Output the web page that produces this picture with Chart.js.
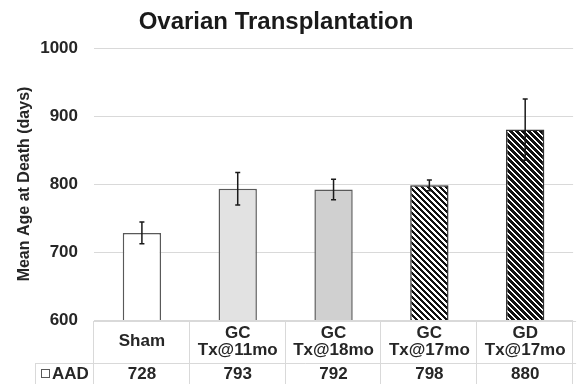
<!DOCTYPE html>
<html>
<head>
<meta charset="utf-8">
<script src="https://cdn.jsdelivr.net/npm/chart.js@4/dist/chart.umd.min.js"></script>
<style>
  html, body { margin: 0; padding: 0; background: #ffffff; }
  #wrap { width: 579px; height: 384px; }
</style>
</head>
<body>
<div id="wrap"><canvas id="c" width="579" height="384"></canvas></div>
<script>
// ---- data ----
const chartTitle = 'Ovarian Transplantation';
const yAxisTitle = 'Mean Age at Death (days)';
const seriesName = 'AAD';
const groups = [['Sham'], ['GC', 'Tx@11mo'], ['GC', 'Tx@18mo'], ['GC', 'Tx@17mo'], ['GD', 'Tx@17mo']];
const aad = [728, 793, 792, 798, 880];
const aadErr = [16, 24, 15, 8, 45];
const yMin = 600;
const yMax = 1000;
const yStep = 100;

const FONT = '"Liberation Sans", Arial, Helvetica, sans-serif';
const TEXT = '#262626';
const LINE = '#d9d9d9';

// diagonal hatch tiles ("\" direction)
function hatch(period, dark, bg, fg) {
  const t = document.createElement('canvas');
  t.width = period; t.height = period;
  const g = t.getContext('2d');
  g.fillStyle = bg; g.fillRect(0, 0, period, period);
  g.fillStyle = fg;
  for (let y = 0; y < period; y++) {
    for (let x = 0; x < period; x++) {
      if ((((x - y) % period) + period) % period < dark) g.fillRect(x, y, 1, 1);
    }
  }
  return g.createPattern(t, 'repeat');
}
const ctx0 = document.getElementById('c').getContext('2d');
const fills = ['#ffffff', '#e2e2e2', '#d0d0d0', hatch(6, 3, '#ffffff', '#111111'), hatch(6, 4, '#ffffff', '#111111')];
const borders = ['#595959', '#595959', '#595959', '#333333', '#333333'];

// error bars drawn on top of the bars
const errorBars = {
  id: 'errorBars',
  afterDatasetsDraw(chart) {
    const { ctx } = chart;
    const y = chart.scales.y;
    const meta = chart.getDatasetMeta(0);
    ctx.save();
    ctx.strokeStyle = '#1a1a1a';
    ctx.lineWidth = 1.5;
    meta.data.forEach((bar, i) => {
      const x = bar.x;
      const top = y.getPixelForValue(aad[i] + aadErr[i]);
      const bot = y.getPixelForValue(aad[i] - aadErr[i]);
      ctx.beginPath();
      ctx.moveTo(x, top); ctx.lineTo(x, bot);
      ctx.moveTo(x - 2.5, top); ctx.lineTo(x + 2.5, top);
      ctx.moveTo(x - 2.5, bot); ctx.lineTo(x + 2.5, bot);
      ctx.stroke();
    });
    ctx.restore();
  }
};

// data table under the plot: grid lines, legend key and the value row
const dataTable = {
  id: 'dataTable',
  afterDraw(chart) {
    const { ctx, chartArea } = chart;
    const x = chart.scales.x;
    const n = groups.length;
    const colW = (chartArea.right - chartArea.left) / n;
    const top = chartArea.bottom + 1;
    const mid = top + 42;
    const bottom = chart.height;
    const keyLeft = 35.5;
    const right = chartArea.right + 3;
    ctx.save();
    ctx.strokeStyle = LINE;
    ctx.lineWidth = 1;
    ctx.beginPath();
    ctx.moveTo(chartArea.left, top + 0.5); ctx.lineTo(right, top + 0.5);
    ctx.moveTo(keyLeft, mid + 0.5); ctx.lineTo(right, mid + 0.5);
    ctx.moveTo(keyLeft, mid); ctx.lineTo(keyLeft, bottom);
    for (let i = 0; i <= n; i++) {
      const px = Math.round(chartArea.left + i * colW) - 0.5;
      ctx.moveTo(px, top); ctx.lineTo(px, bottom);
    }
    ctx.stroke();

    // legend key
    ctx.strokeStyle = '#595959';
    ctx.fillStyle = '#ffffff';
    ctx.fillRect(41.5, 369.5, 8, 8);
    ctx.strokeRect(41.5, 369.5, 8, 8);
    ctx.fillStyle = TEXT;
    ctx.font = 'bold 17px ' + FONT;
    ctx.textBaseline = 'middle';
    ctx.textAlign = 'left';
    ctx.fillText(seriesName, 52, 374);

    // values
    ctx.textAlign = 'center';
    aad.forEach((v, i) => ctx.fillText(String(v), x.getPixelForValue(i), 374));
    ctx.restore();
  }
};

// chart title
const titleText = {
  id: 'titleText',
  afterDraw(chart) {
    const { ctx } = chart;
    ctx.save();
    ctx.fillStyle = '#1a1a1a';
    ctx.font = 'bold 24px ' + FONT;
    ctx.textAlign = 'center';
    ctx.textBaseline = 'middle';
    ctx.fillText(chartTitle, 276, 22);
    ctx.restore();
  }
};

new Chart(ctx0, {
  type: 'bar',
  data: {
    labels: groups,
    datasets: [{
      label: seriesName,
      data: aad,
      backgroundColor: fills,
      borderColor: borders,
      borderWidth: 1.5,
      categoryPercentage: 1,
      barPercentage: 0.4
    }]
  },
  options: {
    responsive: false,
    animation: false,
    devicePixelRatio: 1,
    layout: { padding: { top: 48, right: 4, left: 0, bottom: 0 } },
    plugins: {
      legend: { display: false },
      title: { display: false },
      tooltip: { enabled: false }
    },
    scales: {
      x: {
        grid: { display: false, drawTicks: false },
        border: { display: false },
        ticks: {
          color: TEXT,
          font: { family: FONT, size: 17, weight: 'bold', lineHeight: 1.0 },
          padding: 13,
          crossAlign: 'center',
          maxRotation: 0,
          autoSkip: false
        },
        afterFit(s) { s.height = 64; }
      },
      y: {
        min: yMin,
        max: yMax,
        grid: { color: LINE, lineWidth: 1, drawTicks: false },
        border: { display: false },
        ticks: {
          stepSize: yStep,
          color: TEXT,
          padding: 16,
          font: { family: FONT, size: 17, weight: 'bold' },
          callback: (v) => String(v)
        },
        title: {
          display: true,
          text: yAxisTitle,
          color: TEXT,
          font: { family: FONT, size: 16, weight: 'bold' },
          padding: { top: 15, bottom: 0 }
        },
        afterFit(s) { s.width = 94; }
      }
    }
  },
  plugins: [errorBars, dataTable, titleText]
});
</script>
</body>
</html>
